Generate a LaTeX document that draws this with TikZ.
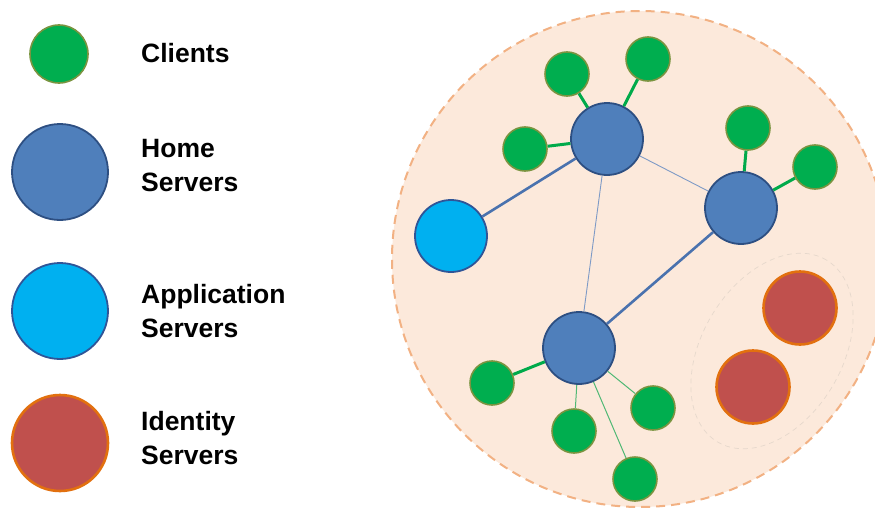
\documentclass[tikz,border=0pt]{standalone}
\usepackage{fontspec}
\setmainfont{Liberation Sans}

\definecolor{cliFill}{HTML}{00AE4F}
\definecolor{cliEdge}{HTML}{7A9440}
\definecolor{homeFill}{HTML}{4F7FBB}
\definecolor{homeEdge}{HTML}{2D4F82}
\definecolor{appFill}{HTML}{00B0F0}
\definecolor{appEdge}{HTML}{2F5597}
\definecolor{idFill}{HTML}{C0504D}
\definecolor{idEdge}{HTML}{E2700F}
\definecolor{zoneFill}{HTML}{FCE9DB}
\definecolor{zoneEdge}{HTML}{F2B183}
\definecolor{idZone}{HTML}{E6D8CC}
\definecolor{linkBlue}{HTML}{4A72AE}
\definecolor{thinBlue}{HTML}{7E9AC6}
\definecolor{linkGreen}{HTML}{00AA4A}
\definecolor{thinGreen}{HTML}{4FB874}

\tikzset{
  client/.style={circle, inner sep=0pt, minimum size=44pt, fill=cliFill, draw=cliEdge, line width=1.6pt},
  home/.style={circle, inner sep=0pt, minimum size=72pt, fill=homeFill, draw=homeEdge, line width=1.8pt},
  appsrv/.style={circle, inner sep=0pt, minimum size=72pt, fill=appFill, draw=appEdge, line width=1.8pt},
  idsrv/.style={circle, inner sep=0pt, minimum size=73pt, fill=idFill, draw=idEdge, line width=2.6pt},
  bigclient/.style={client, minimum size=58pt},
  bighome/.style={home, minimum size=96pt},
  bigapp/.style={appsrv, minimum size=96pt},
  bigid/.style={idsrv, minimum size=96pt},
  % the base anchor of a two-line label sits on its last line
  legend/.style={anchor=base west, align=left, inner sep=0pt,
    font=\fontsize{26.5}{33.5}\selectfont\bfseries},
  trunk/.style={draw=linkBlue, line width=2.6pt},
  twig/.style={draw=thinBlue, line width=0.9pt},
  leaf/.style={draw=linkGreen, line width=3pt},
  thinleaf/.style={draw=thinGreen, line width=1pt},
}

\begin{document}
\begin{tikzpicture}[x=1pt, y=-1pt]
\useasboundingbox (0,0) rectangle (875,511);

% legend
\node[bigclient] (lc) at (59,54) {};
\node[bighome]   (lh) at (60,172) {};
\node[bigapp]    (la) at (60,311) {};
\node[bigid]     (li) at (60,443) {};
\node[legend] (tc) at (141,63)  {Clients};
\node[legend] (th) at (141,191) {Home\\Servers};
\node[legend] (ta) at (141,337) {Application\\Servers};
\node[legend] (ti) at (141,464) {Identity\\Servers};

% federation zone
\draw[fill=zoneFill, draw=zoneEdge, line width=2pt, dash pattern=on 9pt off 6pt]
  (640,259) circle [radius=248pt];

% identity server group
\draw[idZone, line width=0.7pt, dash pattern=on 5pt off 4pt, rotate around={59:(772,351)}]
  (772,351) ellipse [x radius=106pt, y radius=70pt];

% servers
\node[home]   (hA) at (607,139) {};
\node[home]   (hB) at (741,208) {};
\node[home]   (hC) at (579,348) {};
\node[appsrv] (ap) at (451,236) {};
\node[idsrv]  (i1) at (800,308) {};
\node[idsrv]  (i2) at (753,387) {};

% clients
\node[client] (c1) at (525,149) {};
\node[client] (c2) at (567,74)  {};
\node[client] (c3) at (648,59)  {};
\node[client] (c4) at (748,128) {};
\node[client] (c5) at (815,167) {};
\node[client] (c6) at (492,383) {};
\node[client] (c7) at (574,431) {};
\node[client] (c8) at (653,408) {};
\node[client] (c9) at (635,479) {};

% links between nodes
\path[trunk] (hA) -- (ap);
\path[trunk] (hB) -- (hC);
\path[twig]  (hA) -- (hB);
\path[twig]  (hA) -- (hC);
\path[leaf] (hA) -- (c1);
\path[leaf] (hA) -- (c2);
\path[leaf] (hA) -- (c3);
\path[leaf] (hB) -- (c4);
\path[leaf] (hB) -- (c5);
\path[leaf] (hC) -- (c6);
\path[thinleaf] (hC) -- (c7);
\path[thinleaf] (hC) -- (c8);
\path[thinleaf] (hC) -- (c9);
\end{tikzpicture}
\end{document}
